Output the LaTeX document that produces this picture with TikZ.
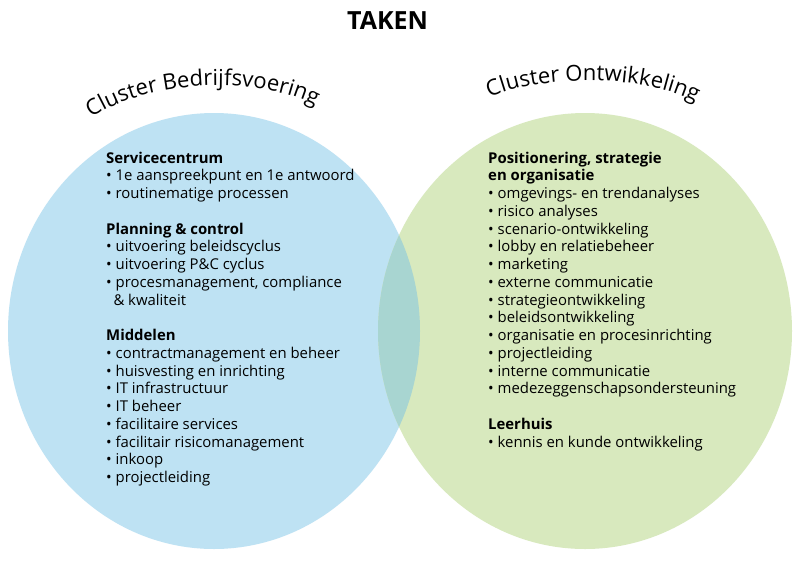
\documentclass[tikz,border=0pt]{standalone}
\usepackage{fontspec}
\setmainfont{Open Sans}
\usetikzlibrary{decorations.text}
\definecolor{blueC}{HTML}{BEE2F3}
\definecolor{greenC}{HTML}{D8E9BE}
\definecolor{overC}{HTML}{A8D5D1}
\begin{document}
\begin{tikzpicture}[x=1pt,y=-1pt,
  txt/.style={anchor=base west, inner sep=0pt, font=\fontsize{14.9}{17}\selectfont},
  hd/.style={txt, font=\fontsize{14.9}{17}\selectfont\bfseries},
  ttl/.style={anchor=base, inner sep=0pt, font=\fontsize{25}{30}\selectfont\bfseries},
  curve/.style={decorate, decoration={text along path, text align=center, text={#1}}}]
\useasboundingbox (0,0) rectangle (800,560);
\fill[white] (0,0) rectangle (800,560);
\coordinate (cb) at (214,331);
\coordinate (cg) at (585,331);
\fill[blueC] (cb) ellipse [x radius=206pt, y radius=218pt];
\fill[greenC] (cg) ellipse [x radius=207pt, y radius=218pt];
\begin{scope}
  \clip (cb) ellipse [x radius=206pt, y radius=218pt];
  \fill[overC] (cg) ellipse [x radius=207pt, y radius=218pt];
\end{scope}

\node[ttl] (title) at (387.5,29) {TAKEN};

\coordinate (lb0) at (87,121);
\coordinate (lb1) at (150,76);
\coordinate (lb2) at (265,76);
\coordinate (lb3) at (320,108);
\path[curve={|\fontsize{22}{26}\selectfont|Cluster Bedrijfsvoering}] (lb0) .. controls (lb1) and (lb2) .. (lb3);

\coordinate (rb0) at (483,101);
\coordinate (rb1) at (530,74);
\coordinate (rb2) at (650,72);
\coordinate (rb3) at (702,106);
\path[curve={|\fontsize{22}{26}\selectfont|Cluster Ontwikkeling}] (rb0) .. controls (rb1) and (rb2) .. (rb3);

% left column
\node[hd]  (l0)  at (106,163)    {Servicecentrum};
\node[txt] (l1)  at (106,180.75) {• 1e aanspreekpunt en 1e antwoord};
\node[txt] (l2)  at (106,198.5)  {• routinematige processen};
\node[hd]  (l4)  at (106,234)    {Planning \& control};
\node[txt] (l5)  at (106,251.75) {• uitvoering beleidscyclus};
\node[txt] (l6)  at (106,269.5)  {• uitvoering P\&C cyclus};
\node[txt] (l7)  at (106,287.25) {• procesmanagement, compliance};
\node[txt] (l8)  at (113.3,305)  {\& kwaliteit};
\node[hd]  (l10) at (106,340.5)  {Middelen};
\node[txt] (l11) at (106,358.25) {• contractmanagement en beheer};
\node[txt] (l12) at (106,376)    {• huisvesting en inrichting};
\node[txt] (l13) at (106,393.75) {• IT infrastructuur};
\node[txt] (l14) at (106,411.5)  {• IT beheer};
\node[txt] (l15) at (106,429.25) {• facilitaire services};
\node[txt] (l16) at (106,447)    {• facilitair risicomanagement};
\node[txt] (l17) at (106,464.75) {• inkoop};
\node[txt] (l18) at (106,482.5)  {• projectleiding};

% right column
\node[hd]  (r0)  at (488,163)    {Positionering, strategie};
\node[hd]  (r1)  at (488,180.75) {en organisatie};
\node[txt] (r2)  at (488,198.5)  {• omgevings- en trendanalyses};
\node[txt] (r3)  at (488,216.25) {• risico analyses};
\node[txt] (r4)  at (488,234)    {• scenario-ontwikkeling};
\node[txt] (r5)  at (488,251.75) {• lobby en relatiebeheer};
\node[txt] (r6)  at (488,269.5)  {• marketing};
\node[txt] (r7)  at (488,287.25) {• externe communicatie};
\node[txt] (r8)  at (488,305)    {• strategieontwikkeling};
\node[txt] (r9)  at (488,322.75) {• beleidsontwikkeling};
\node[txt] (r10) at (488,340.5)  {• organisatie en procesinrichting};
\node[txt] (r11) at (488,358.25) {• projectleiding};
\node[txt] (r12) at (488,376)    {• interne communicatie};
\node[txt] (r13) at (488,393.75) {• medezeggenschapsondersteuning};
\node[hd]  (r15) at (488,429.25) {Leerhuis};
\node[txt] (r16) at (488,447)    {• kennis en kunde ontwikkeling};
\end{tikzpicture}
\end{document}
